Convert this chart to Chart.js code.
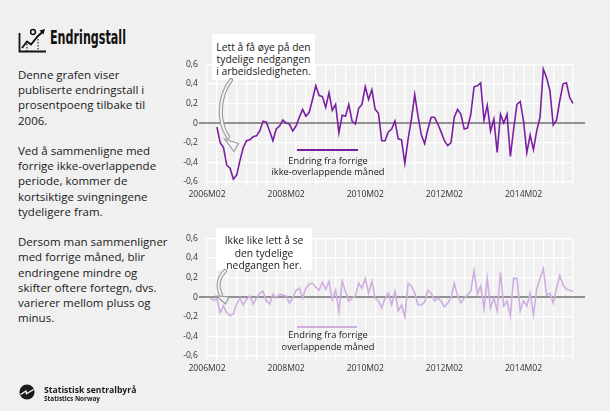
<!DOCTYPE html>
<html lang="no">
<head>
<meta charset="utf-8">
<title>Endringstall</title>
<script src="https://cdn.jsdelivr.net/npm/chart.js@4.4.1/dist/chart.umd.min.js"></script>
<style>
  html, body { margin: 0; padding: 0; }
  body { width: 610px; height: 411px; background: #f0f0f0; position: relative; overflow: hidden;
         font-family: 'Open Sans', sans-serif; color: #1a1a1a; }
  .abs { position: absolute; }
  canvas.plot { position: absolute; left: 160px; width: 440px; height: 160px; }
  #title { left: 50px; top: 25px; font-family: 'Liberation Sans Narrow', 'DejaVu Sans Condensed', sans-serif;
           font-weight: bold; font-size: 20px; line-height: 24px; color: #111;
           transform: scaleX(0.62); transform-origin: 0 0; white-space: nowrap; }
  #intro { left: 18px; top: 67px; font-size: 11.5px; line-height: 15.2px; }
  .note { background: #fff; text-align: center; font-size: 10.3px; line-height: 12.3px; box-sizing: border-box; }
  .legtext { text-align: center; font-size: 9.3px; line-height: 11.5px; width: 150px; }
  .legline { height: 1.6px; }
  #brand1 { left: 44px; top: 385px; font-size: 8.6px; font-weight: bold; line-height: 10px; }
  #brand2 { left: 44px; top: 395px; font-size: 6.4px; font-weight: bold; line-height: 8px; }
</style>
</head>
<body>

<svg class="abs" style="left:16px;top:27px" width="32" height="27" viewBox="0 0 32 27">
  <path d="M3.5 6 V24.5 H30" fill="none" stroke="#111" stroke-width="1.8"/>
  <polyline points="6,21 11,14.5 15,17.5 22,9 26.5,5" fill="none" stroke="#111" stroke-width="1.9"/>
  <polygon points="29,2 23.5,3.5 27.5,7.5" fill="#111"/>
  <circle cx="17" cy="5" r="2.4" fill="none" stroke="#111" stroke-width="1.5"/>
  <line x1="11" y1="17" x2="11" y2="24" stroke="#111" stroke-width="1" stroke-dasharray="1.5 1.5"/>
  <line x1="22" y1="12" x2="22" y2="24" stroke="#111" stroke-width="1" stroke-dasharray="1.5 1.5"/>
</svg>
<div id="title" class="abs">Endringstall</div>

<div id="intro" class="abs">
Denne grafen viser<br>publiserte endringstall i<br>prosentpoeng tilbake til<br>2006.<br><br>
Ved å sammenligne med<br>forrige ikke-overlappende<br>periode, kommer de<br>kortsiktige svingningene<br>tydeligere fram.<br><br>
Dersom man sammenligner<br>med forrige måned, blir<br>endringene mindre og<br>skifter oftere fortegn, dvs.<br>varierer mellom pluss og<br>minus.
</div>

<canvas id="topChart" class="plot" width="440" height="160" style="top:50px"></canvas>
<canvas id="bottomChart" class="plot" width="440" height="160" style="top:224px"></canvas>

<div class="abs note" style="left:212px;top:34px;width:103px;height:46px;padding-top:6.5px">
Lett å få øye på den<br>tydelige nedgangen<br>i arbeidsledigheten.
</div>
<div class="abs note" style="left:216px;top:228px;width:96px;height:42px;padding-top:6.3px">
Ikke like lett å se<br>den tydelige<br>nedgangen her.
</div>

<svg class="abs" style="left:0;top:0" width="610" height="411">
  <g fill="none" stroke-linecap="round">
    <path d="M231 80 C219 96, 217 120, 228 137" stroke="#9a9a9a" stroke-width="4.2"/>
    <path d="M231 80 C219 96, 217 120, 228 137" stroke="#f4f4f4" stroke-width="2"/>
    <path d="M225 271 C218 278, 217 287, 221 295" stroke="#9a9a9a" stroke-width="4.2"/>
    <path d="M225 271 C218 278, 217 287, 221 295" stroke="#f4f4f4" stroke-width="2"/>
  </g>
  <polygon points="224.5,139 238.5,143.5 234,151.5" fill="#f4f4f4" stroke="#9a9a9a" stroke-width="1.2"/>
  <polygon points="216.5,296 229,297 225.5,304" fill="#f4f4f4" stroke="#9a9a9a" stroke-width="1.2"/>
</svg>

<div class="abs legline" style="left:297px;top:149px;width:61px;background:#7b1fa2"></div>
<div class="abs legtext" style="left:253px;top:154.5px">Endring fra forrige<br>ikke-overlappende måned</div>
<div class="abs legline" style="left:297px;top:326px;width:60px;background:#cfaee0"></div>
<div class="abs legtext" style="left:253px;top:329px">Endring fra forrige<br>overlappende måned</div>

<svg class="abs" style="left:19px;top:384px" width="16" height="16" viewBox="0 0 16 16">
  <circle cx="8" cy="8" r="7.6" fill="#1b1b1b"/>
  <polyline points="1.5,10.5 7,7 7.5,9.8 14.5,5.5" fill="none" stroke="#fff" stroke-width="1.3"/>
</svg>
<div id="brand1" class="abs">Statistisk sentralbyrå</div>
<div id="brand2" class="abs">Statistics Norway</div>

<script>
// month categories 2006M02 .. 2015M05
const startYear = 2006;
const startMonth = 2;
const monthCount = 112;
const months = [];
for (let i = 0; i < monthCount; i++) {
  const t = startMonth - 1 + i;
  months.push((startYear + Math.floor(t / 12)) + 'M' + String(t % 12 + 1).padStart(2, '0'));
}

// change from previous non-overlapping period (3 months back), from 2006M02
const nonOverlapping = [
  null, null, null, -0.04, -0.20, -0.25, -0.43, -0.46, -0.57, -0.53,
  -0.38, -0.25, -0.18, -0.17, -0.14, -0.13, -0.08, 0.02, 0.01, -0.08,
  -0.18, -0.06, -0.03, 0.03, 0.00, -0.01, -0.08, -0.03, 0.06, 0.14,
  0.07, 0.11, 0.24, 0.38, 0.28, 0.27, 0.16, 0.31, 0.13, 0.19,
  -0.10, 0.08, 0.07, 0.19, 0.02, -0.01, 0.15, 0.19, 0.37, 0.24,
  0.34, 0.14, 0.10, -0.18, -0.18, -0.09, -0.06, 0.02, -0.16, -0.17,
  -0.41, -0.16, 0.04, 0.29, 0.07, -0.12, -0.21, -0.06, 0.06, 0.06,
  -0.01, -0.09, -0.18, -0.23, -0.20, 0.06, 0.14, 0.09, -0.06, -0.05,
  0.09, 0.37, 0.38, 0.41, 0.03, 0.18, -0.08, 0.04, -0.30, 0.09,
  0.00, 0.09, -0.34, -0.06, 0.19, 0.22, 0.02, -0.30, -0.12, -0.27,
  -0.08, 0.06, 0.55, 0.46, 0.33, -0.02, 0.03, 0.23, 0.40, 0.41,
  0.26, 0.20
];

// change from previous (overlapping) month, from 2006M02
const overlapping = [
  null, -0.01, -0.03, -0.02, -0.16, -0.09, -0.16, -0.19, -0.17, -0.07,
  -0.01, -0.08, -0.02, 0.01, -0.07, -0.01, 0.04, 0.06, -0.04, -0.07,
  0.03, -0.01, 0.03, 0.02, 0.01, -0.06, -0.01, 0.07, 0.09, -0.01,
  0.09, 0.13, 0.14, 0.10, 0.07, 0.15, 0.08, 0.16, -0.03, 0.07,
  -0.15, 0.16, 0.06, -0.04, -0.01, 0.01, 0.14, 0.09, 0.19, 0.04,
  0.16, -0.01, -0.04, -0.11, -0.01, 0.04, -0.08, 0.06, -0.14, -0.08,
  -0.20, 0.14, 0.11, 0.04, -0.08, -0.08, -0.05, 0.07, 0.04, -0.04,
  -0.01, -0.04, -0.10, -0.06, -0.01, 0.14, 0.01, -0.06, -0.01, 0.02,
  0.06, 0.27, 0.03, 0.11, -0.12, 0.19, -0.11, -0.01, -0.14, 0.25,
  -0.09, -0.04, -0.19, 0.19, 0.19, -0.14, -0.04, -0.09, 0.04, -0.18,
  0.08, 0.19, 0.29, 0.02, 0.04, -0.06, 0.09, 0.22, 0.12, 0.08,
  0.07, 0.06
];

const yMin = -0.6;
const yMax = 0.6;

const zeroLine = {
  id: 'zeroLine',
  beforeDatasetsDraw(chart) {
    const { ctx, chartArea } = chart;
    const y = chart.scales.y.getPixelForValue(0);
    ctx.save();
    ctx.strokeStyle = '#6f6f6f';
    ctx.lineWidth = 1.5;
    ctx.beginPath();
    ctx.moveTo(chartArea.left - 8, y);
    ctx.lineTo(chartArea.right + 12, y);
    ctx.stroke();
    ctx.restore();
  }
};

const tickFont = { family: 'Open Sans', size: 8.6 };

function makeChart(id, values, color) {
  return new Chart(document.getElementById(id), {
    type: 'line',
    data: {
      labels: months,
      datasets: [{
        data: values,
        borderColor: color,
        borderWidth: 1.6,
        pointRadius: 0,
        tension: 0,
        fill: false
      }]
    },
    options: {
      responsive: false,
      animation: false,
      events: [],
      layout: { padding: { top: 12.7, right: 27, bottom: 0, left: 0 } },
      plugins: { legend: { display: false }, tooltip: { enabled: false } },
      scales: {
        x: {
          offset: false,
          border: { display: false },
          grid: {
            color: c => c.index % 3 === 0 ? '#ffffff' : 'rgba(0,0,0,0)',
            lineWidth: 1.3,
            tickLength: 4
          },
          ticks: {
            autoSkip: false,
            maxRotation: 0,
            padding: 3,
            color: '#333',
            font: tickFont,
            callback: (v, i) => i % 24 === 0 ? months[i] : ''
          },
          afterFit: s => { s.height = 28; }
        },
        y: {
          min: yMin,
          max: yMax,
          border: { display: false },
          grid: { color: '#ffffff', lineWidth: 1.3, drawTicks: false },
          ticks: {
            stepSize: 0.1,
            padding: 9,
            color: '#333',
            font: tickFont,
            callback: v => {
              const r = Math.round(v * 10);
              return r % 2 === 0 ? String(r / 10).replace('.', ',') : '';
            }
          },
          afterFit: s => { s.width = 47; }
        }
      }
    },
    plugins: [zeroLine]
  });
}

makeChart('topChart', nonOverlapping, '#7b1fa2');
makeChart('bottomChart', overlapping, '#cfaee0');
</script>
</body>
</html>
